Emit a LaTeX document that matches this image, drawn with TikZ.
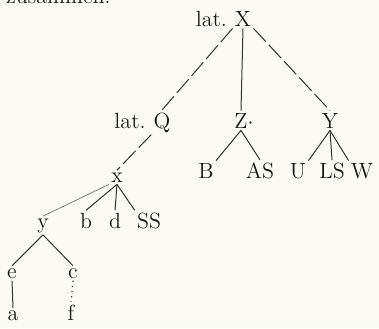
\documentclass[tikz,border=0pt]{standalone}
\begin{document}
\begin{tikzpicture}[x=0.5pt,y=-0.5pt,
  lab/.style={inner sep=1pt, anchor=base, font=\fontsize{11}{13}\selectfont, text=black!90},
  edge/.style={draw=black!80, line width=0.5pt},
  dashedge/.style={edge, dash pattern=on 9pt off 2.2pt},
  faintedge/.style={draw=black!55, line width=0.35pt},
  dotedge/.style={draw=black!75, line width=0.6pt, dash pattern=on 0.6pt off 2pt}]
\useasboundingbox (0,0) rectangle (379,328);
\fill[fill={rgb,255:red,252;green,251;blue,243}] (0,0) rectangle (379,328);
\begin{scope}
\clip (0,0) rectangle (379,328);
\node[lab, anchor=base east] (top) at (113,3.5) {zusammen.};
\end{scope}
% root
\node[lab] (X) at (243,26) {X};
\node[lab, anchor=base east] (Xp) at ([xshift=-1.6pt]X.base west) {lat.};
% second row
\node[lab] (Q) at (162,128) {Q};
\node[lab, anchor=base east] (Qp) at ([xshift=-1.6pt]Q.base west) {lat.};
\node[lab] (Z) at (241,128) {Z\rlap{$\cdot$}};
\node[lab] (Y) at (330,128) {Y};
% children of Z and Y
\node[lab] (B) at (206,178) {B};
\node[lab] (AS) at (260,178) {AS};
\node[lab] (U) at (298,178) {U};
\node[lab] (LS) at (332,178) {LS};
\node[lab] (W) at (362,178) {W};
% x subtree
\node[lab] (x) at (117,182) {x};
\node[lab] (y) at (43,228) {y};
\node[lab] (b) at (86,228) {b};
\node[lab] (d) at (115,228) {d};
\node[lab] (SS) at (149,228) {SS};
\node[lab] (e) at (12,278) {e};
\node[lab] (c) at (73,278) {c};
\node[lab] (a) at (13,320) {a};
\node[lab] (f) at (71,320) {f};
% connectors
\draw[dashedge] (X.south west) -- (Q.north);
\draw[edge] (X.south) -- (Z.north);
\draw[dashedge] (X.south east) -- (Y.north);
\draw[dashedge] (Q.south west) -- (x.north);
\draw[edge] (Z.south) -- (B.north east);
\draw[edge] (Z.south) -- (AS.north);
\draw[edge] (Y.south) -- (U.north east);
\draw[edge] (Y.south) -- (LS.north);
\draw[edge] (Y.south) -- (W.north west);
\draw[faintedge] (x.south west) -- (y.north);
\draw[edge] (x.south) -- (b.north);
\draw[edge] (x.south) -- (d.north);
\draw[edge] (x.south) -- (SS.north west);
\draw[edge] (y.south) -- (e.north);
\draw[edge] (y.south) -- (c.north);
\draw[edge] (e.south) -- (a.north);
\draw[dotedge] (c.south) -- (f.north);
\end{tikzpicture}
\end{document}
